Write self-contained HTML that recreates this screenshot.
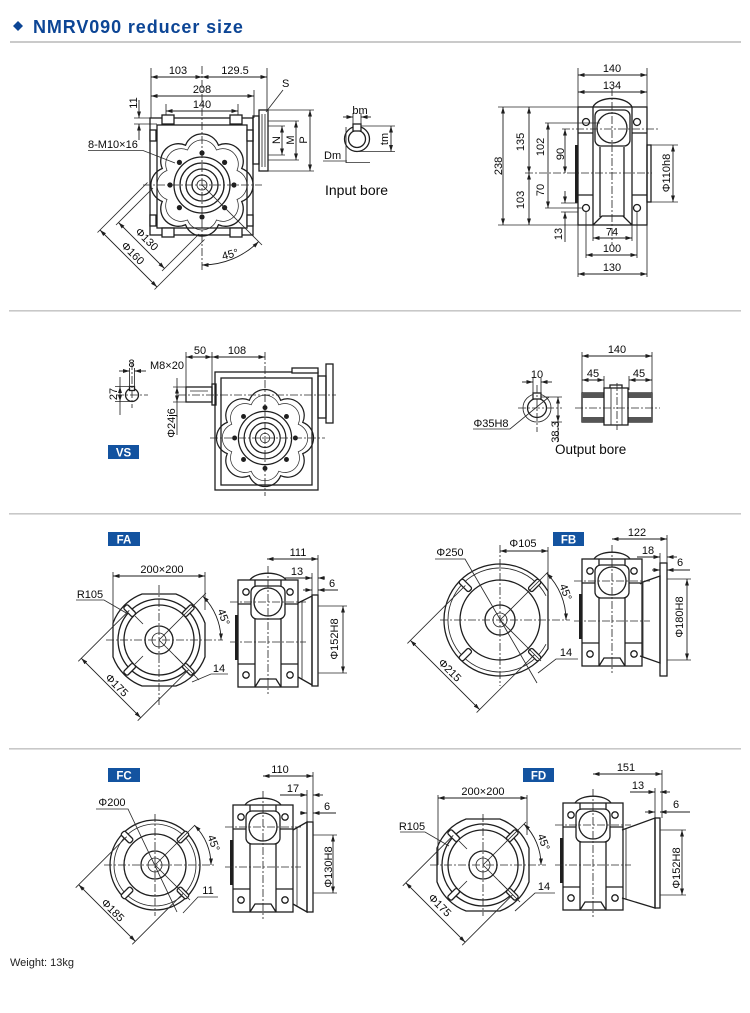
<!DOCTYPE html>
<html><head><meta charset="utf-8"><title>NMRV090 reducer size</title>
<style>
html,body{margin:0;padding:0;background:#fff;width:750px;height:1013px;overflow:hidden}
svg{display:block}
.l{stroke:#1e1e1e;stroke-width:1.3;fill:none}
.w{stroke:#1e1e1e;stroke-width:1.3;fill:#fff}
.e{stroke:#2a2a2a;stroke-width:0.85;fill:none}
.c{stroke:#2a2a2a;stroke-width:0.85;fill:none;stroke-dasharray:8 2 2 2}
.dm{stroke:#1e1e1e;stroke-width:0.9;fill:none;marker-start:url(#a);marker-end:url(#a)}
.de{stroke:#1e1e1e;stroke-width:0.9;fill:none;marker-end:url(#a)}
.t{font-family:"Liberation Sans",Arial,sans-serif;font-size:11px;fill:#0a0a0a}
.k{fill:#1e1e1e}
.lab{fill:#1353a0}
.lt{font-family:"Liberation Sans",Arial,sans-serif;font-size:11.5px;font-weight:bold;fill:#fff}
</style></head><body>
<svg width="750" height="1013" viewBox="0 0 750 1013" xmlns="http://www.w3.org/2000/svg">
<defs>
<marker id="a" viewBox="0 0 10 6" refX="10" refY="3" markerWidth="6.5" markerHeight="4" markerUnits="userSpaceOnUse" orient="auto-start-reverse"><path d="M0,0L10,3L0,6Z" fill="#1e1e1e"/></marker>
<path id="lobe" d="M39.73,-16.46A17.6,17.6 0 0 1 39.73,16.46A17.6,17.6 0 0 1 16.46,39.73A17.6,17.6 0 0 1 -16.46,39.73A17.6,17.6 0 0 1 -39.73,16.46A17.6,17.6 0 0 1 -39.73,-16.46A17.6,17.6 0 0 1 -16.46,-39.73A17.6,17.6 0 0 1 16.46,-39.73A17.6,17.6 0 0 1 39.73,-16.46Z"/>
<g id="gear">
<use href="#lobe" class="l"/>
<use href="#lobe" class="e" transform="scale(0.88)"/>
<circle class="l" r="28"/>
<circle class="l" r="22"/>
<circle class="l" r="16"/>
<circle class="l" r="10"/>
<circle class="e" r="5"/>
<g class="k">
<circle cx="32" cy="0" r="2.6"/><circle cx="22.6" cy="22.6" r="2.6"/><circle cx="0" cy="32" r="2.6"/><circle cx="-22.6" cy="22.6" r="2.6"/>
<circle cx="-32" cy="0" r="2.6"/><circle cx="-22.6" cy="-22.6" r="2.6"/><circle cx="0" cy="-32" r="2.6"/><circle cx="22.6" cy="-22.6" r="2.6"/>
</g>
</g>
<g id="ffa">
<path class="l" d="M46,-16.9L46,16.9A49,49 0 0 1 16.9,46L-16.9,46A49,49 0 0 1 -46,16.9L-46,-16.9A49,49 0 0 1 -16.9,-46L16.9,-46A49,49 0 0 1 46,-16.9Z"/>
<circle class="l" r="41"/>
<circle class="l" r="35"/>
<circle class="l" r="14"/>
<circle class="e" r="7"/>
<rect class="w" x="35" y="-2.8" width="13" height="5.6" rx="2" transform="rotate(45)"/>
<rect class="w" x="35" y="-2.8" width="13" height="5.6" rx="2" transform="rotate(135)"/>
<rect class="w" x="35" y="-2.8" width="13" height="5.6" rx="2" transform="rotate(225)"/>
<rect class="w" x="35" y="-2.8" width="13" height="5.6" rx="2" transform="rotate(315)"/>
<path class="e" d="M-16,-16L-24,-24M-16,16L-24,24M16,16L24,24"/>
</g>
<g id="side">
<rect class="l" x="0" y="0" width="60" height="107"/>
<path class="l" d="M12,0A19,10 0 0 1 48,0"/>
<path class="l" d="M17,0V107M43,0V107M0,24H17M43,24H60M0,84H17M43,84H60M17,107L22,99H38L43,107"/>
<rect class="w" x="13" y="6" width="34" height="33" rx="6"/>
<circle class="l" cx="30" cy="22" r="14"/>
<circle class="l" cx="8" cy="12" r="3.2"/>
<circle class="l" cx="52" cy="12" r="3.2"/>
<circle class="l" cx="8" cy="95" r="3.2"/>
<circle class="l" cx="52" cy="95" r="3.2"/>
<rect class="k" x="-3" y="35" width="2.5" height="45"/>
<path class="c" d="M-8,22H68M-8,62H68M30,-14V114"/>
</g>
</defs>

<!-- HEADER -->
<polygon points="18,21 23,26 18,31 13,26" fill="#0c4595"/>
<text x="33" y="33" style="font-family:'Liberation Sans',Arial,sans-serif;font-size:18px;font-weight:bold;letter-spacing:0.9px;fill:#0c4595">NMRV090 reducer size</text>
<rect x="10" y="41" width="731" height="2" fill="#cacaca"/>
<rect x="9" y="310" width="732" height="1.6" fill="#c8c8c8"/>
<rect x="9" y="513" width="732" height="1.6" fill="#c8c8c8"/>
<rect x="9" y="748" width="732" height="1.6" fill="#c8c8c8"/>

<!-- ===== SECTION 1 MAIN VIEW ===== -->
<path class="e" d="M151,68V118M267,68V110M254,90V118M166,104V118M238,104V118"/>
<line class="dm" x1="151" y1="77" x2="202" y2="77"/>
<line class="dm" x1="202" y1="77" x2="267" y2="77"/>
<text class="t" x="178" y="74" text-anchor="middle">103</text>
<text class="t" x="235" y="74" text-anchor="middle">129.5</text>
<line class="dm" x1="151" y1="96" x2="254" y2="96"/>
<text class="t" x="202" y="93" text-anchor="middle">208</text>
<line class="dm" x1="166" y1="111" x2="238" y2="111"/>
<text class="t" x="202" y="108" text-anchor="middle">140</text>
<path class="e" d="M134,118H150M134,124H157"/>
<path class="de" d="M139,100V118"/><path class="de" d="M139,140V124"/>
<text class="t" text-anchor="middle" transform="translate(137,103) rotate(-90)">11</text>

<rect class="l" x="150" y="118" width="103" height="117"/>
<rect class="l" x="157" y="125" width="90" height="103"/>
<rect class="w" x="162" y="115" width="12" height="9"/>
<rect class="w" x="230" y="115" width="12" height="9"/>
<rect class="w" x="162" y="228" width="12" height="9"/>
<rect class="w" x="230" y="228" width="12" height="9"/>
<rect class="w" x="150" y="130" width="6" height="11"/>
<rect class="w" x="150" y="215" width="6" height="11"/>
<rect class="w" x="247" y="130" width="6" height="11"/>
<rect class="w" x="247" y="215" width="6" height="11"/>
<use href="#gear" transform="translate(202,185)"/>
<rect class="l" x="253" y="116" width="6" height="48"/>
<rect class="l" x="259" y="110" width="9" height="61"/>
<path class="e" d="M262,114V167M265,114V167"/>
<path class="c" d="M143,185H262M202,66V270"/>

<!-- phi dims -->
<path class="e" d="M97.5,232.5L147.5,182.5M154.5,289.5L204.5,239.5M116,225L153,188M162,271L199,234"/>
<line class="dm" x1="100" y1="230" x2="157" y2="287"/>
<line class="dm" x1="118.5" y1="222.5" x2="164.5" y2="268.5"/>
<text class="t" text-anchor="middle" y="4" transform="translate(147,239) rotate(45)">Φ130</text>
<text class="t" text-anchor="middle" y="4" transform="translate(133,253) rotate(45)">Φ160</text>
<path class="e" d="M202,185L262,245"/>
<path class="dm" d="M202,265A80,80 0 0 0 258.6,241.6"/>
<text class="t" text-anchor="middle" y="4" transform="translate(230,254) rotate(-15)">45°</text>

<text class="t" x="88" y="148">8-M10×16</text>
<path class="e" d="M88,150.5H143L175,163"/>
<text class="t" x="282" y="87">S</text>
<path class="e" d="M283,90L266,112"/>
<path class="e" d="M268,110H314M268,171H314M268,121H299M268,160H299M268,126H285M268,155H285"/>
<line class="dm" x1="282" y1="126" x2="282" y2="155"/>
<line class="dm" x1="296" y1="121" x2="296" y2="160"/>
<line class="dm" x1="310" y1="110" x2="310" y2="171"/>
<text class="t" text-anchor="middle" transform="translate(280,140) rotate(-90)">N</text>
<text class="t" text-anchor="middle" transform="translate(294,140) rotate(-90)">M</text>
<text class="t" text-anchor="middle" transform="translate(307,140) rotate(-90)">P</text>

<!-- input bore -->
<circle class="l" cx="357" cy="139" r="12.5"/>
<circle class="l" cx="357" cy="139" r="8.5"/>
<rect class="w" x="353" y="124" width="8" height="7"/>
<path class="e" d="M353,113V126M361,113V126"/>
<path class="de" d="M343,117H353"/><path class="de" d="M371,117H361"/>
<text class="t" x="360" y="114" text-anchor="middle">bm</text>
<path class="e" d="M361,126H395M357,151.5H395"/>
<line class="dm" x1="391" y1="126" x2="391" y2="151.5"/>
<text class="t" text-anchor="middle" transform="translate(388,139) rotate(-90)">tm</text>
<path class="e" d="M323,161H347M346,127V163M346,162.5H370"/>
<text class="t" x="324" y="159">Dm</text>
<text x="325" y="195" style="font-family:'Liberation Sans',Arial,sans-serif;font-size:14px;fill:#0a0a0a">Input bore</text>

<!-- ===== SECTION 1 RIGHT VIEW ===== -->
<path class="e" d="M578,68V107M647,68V107"/>
<line class="dm" x1="578" y1="75" x2="647" y2="75"/>
<text class="t" x="612" y="72" text-anchor="middle">140</text>
<line class="dm" x1="578" y1="92" x2="647" y2="92"/>
<text class="t" x="612" y="89" text-anchor="middle">134</text>
<rect class="l" x="578" y="107" width="69" height="118"/>
<path class="l" d="M593,107A20,11 0 0 1 632,107"/>
<path class="l" d="M593,107V225M632,107V225M600,147V217M624,147V217M578,133H593M632,133H647M578,195H593M632,195H647M593,225L602,216H623L632,225"/>
<rect class="w" x="595" y="110" width="35" height="36" rx="6"/>
<circle class="l" cx="612" cy="128" r="15"/>
<circle class="l" cx="586" cy="122" r="3.5"/>
<circle class="l" cx="637" cy="122" r="3.5"/>
<circle class="l" cx="586" cy="208" r="3.5"/>
<circle class="l" cx="637" cy="208" r="3.5"/>
<rect class="k" x="575" y="145" width="3" height="58"/>
<rect class="l" x="647" y="145" width="4" height="57"/>
<path class="c" d="M612,88V245M562,129H660M525,173H652"/>
<path class="e" d="M498,107H578M498,225H578M545,123H600M545,208H582"/>
<line class="dm" x1="503" y1="107" x2="503" y2="225"/>
<text class="t" text-anchor="middle" transform="translate(502,166) rotate(-90)">238</text>
<line class="dm" x1="529" y1="107" x2="529" y2="173"/>
<text class="t" text-anchor="middle" transform="translate(524,142) rotate(-90)">135</text>
<line class="dm" x1="529" y1="173" x2="529" y2="225"/>
<text class="t" text-anchor="middle" transform="translate(524,200) rotate(-90)">103</text>
<line class="dm" x1="548" y1="123" x2="548" y2="208"/>
<text class="t" text-anchor="middle" transform="translate(544,147) rotate(-90)">102</text>
<text class="t" text-anchor="middle" transform="translate(544,190) rotate(-90)">70</text>
<line class="dm" x1="565" y1="129" x2="565" y2="173"/>
<text class="t" text-anchor="middle" transform="translate(564,154) rotate(-90)">90</text>
<path class="e" d="M561,203H578M561,212H578"/>
<path class="de" d="M565,191V203"/><path class="de" d="M565,242V212"/>
<text class="t" text-anchor="middle" transform="translate(562,234) rotate(-90)">13</text>
<path class="e" d="M593,225V241M632,225V241M586,211V258M637,211V258M578,225V277M647,225V277"/>
<line class="dm" x1="593" y1="238" x2="632" y2="238"/>
<text class="t" x="612" y="235.5" text-anchor="middle">74</text>
<line class="dm" x1="586" y1="255" x2="637" y2="255"/>
<text class="t" x="612" y="252" text-anchor="middle">100</text>
<line class="dm" x1="578" y1="274" x2="647" y2="274"/>
<text class="t" x="612" y="271" text-anchor="middle">130</text>
<path class="e" d="M651,145H678M651,202H678"/>
<line class="dm" x1="673" y1="145" x2="673" y2="202"/>
<text class="t" text-anchor="middle" transform="translate(670,173) rotate(-90)">Φ110h8</text>

<!-- ===== SECTION 2 VS ===== -->
<circle class="l" cx="132" cy="395" r="6.5"/>
<rect class="w" x="129.5" y="386.5" width="5" height="4"/>
<path class="c" d="M116,395H148M132,362V408"/>
<path class="e" d="M129.5,368V387M134.5,368V387M115,386.5H130M115,401.5H132M120,377V386.5M120,401.5V415"/>
<path class="de" d="M119,371H129.5"/><path class="de" d="M146,371H134.5"/>
<text class="t" x="131.5" y="367" text-anchor="middle">8</text>
<line class="dm" x1="120" y1="386.5" x2="120" y2="401.5"/>
<text class="t" text-anchor="middle" transform="translate(117,394) rotate(-90)">27</text>
<text class="t" x="167" y="369" text-anchor="middle">M8×20</text>
<path class="e" d="M186,352V388M212,352V386"/>
<line class="dm" x1="186" y1="357" x2="212" y2="357"/>
<line class="dm" x1="212" y1="357" x2="265" y2="357"/>
<text class="t" x="200" y="354" text-anchor="middle">50</text>
<text class="t" x="237" y="354" text-anchor="middle">108</text>
<rect class="l" x="186" y="387" width="26" height="15"/>
<path class="e" d="M190,391H208"/>
<rect class="l" x="212" y="384" width="4" height="21"/>
<path class="e" d="M173,387H186M173,402H186M177,378V387M177,402V435"/>
<line class="dm" x1="177" y1="387" x2="177" y2="402"/>
<text class="t" text-anchor="middle" transform="translate(175,423) rotate(-90)">Φ24j6</text>
<rect class="l" x="215" y="372" width="103" height="118"/>
<rect class="l" x="221" y="378" width="91" height="107"/>
<rect class="w" x="292" y="368" width="26" height="5"/>
<use href="#gear" transform="translate(265,438) scale(0.95)"/>
<rect class="l" x="318" y="376" width="8" height="42"/>
<rect class="l" x="326" y="364" width="7" height="59"/>
<path class="c" d="M210,438H325M265,352V496M178,395H336"/>
<rect class="lab" x="108" y="445" width="31" height="14"/>
<text class="lt" x="123.5" y="456.5" text-anchor="middle">VS</text>

<!-- output bore -->
<circle class="e" cx="537" cy="408" r="14"/>
<circle class="l" cx="537" cy="408" r="9.5"/>
<rect class="w" x="533" y="393" width="8" height="6"/>
<path class="c" d="M518,408H562M537,385V432"/>
<path class="e" d="M533,378V398M541,378V398"/>
<path class="de" d="M522,382H533"/><path class="de" d="M552,382H541"/>
<text class="t" x="537" y="378" text-anchor="middle">10</text>
<path class="e" d="M473,429H510L549,397"/>
<text class="t" x="491" y="427" text-anchor="middle">Φ35H8</text>
<path class="e" d="M541,397H562M551,422H562"/>
<line class="dm" x1="558" y1="397" x2="558" y2="422"/>
<path class="e" d="M558,422V442"/>
<text class="t" text-anchor="middle" transform="translate(559,432) rotate(-90)">38.3</text>
<text x="555" y="454" style="font-family:'Liberation Sans',Arial,sans-serif;font-size:13.5px;fill:#0a0a0a">Output bore</text>
<path class="e" d="M582,352V394M652,352V394M604,376V390M629,376V390"/>
<line class="dm" x1="582" y1="356" x2="652" y2="356"/>
<text class="t" x="617" y="353" text-anchor="middle">140</text>
<line class="dm" x1="582" y1="380" x2="604" y2="380"/>
<line class="dm" x1="629" y1="380" x2="652" y2="380"/>
<text class="t" x="593" y="377" text-anchor="middle">45</text>
<text class="t" x="639" y="377" text-anchor="middle">45</text>
<rect class="l" x="582" y="393" width="70" height="29"/>
<rect x="582" y="393" width="70" height="5" fill="#555"/>
<rect x="582" y="417" width="70" height="5" fill="#555"/>
<rect class="w" x="604" y="388" width="24" height="37"/>
<path class="l" d="M610,388V385H622V388"/>
<path class="e" d="M611,388V425M622,388V425"/>
<path class="c" d="M575,408H660M617,383V430"/>

<!-- ===== SECTION 3 FA ===== -->
<rect class="lab" x="108" y="532" width="32" height="14"/>
<text class="lt" x="124" y="543.5" text-anchor="middle">FA</text>
<use href="#ffa" transform="translate(159,640)"/>
<path class="c" d="M106,640H223M159,585V706"/>
<path class="e" d="M113,572V640M205,572V610"/>
<line class="dm" x1="113" y1="576" x2="205" y2="576"/>
<text class="t" x="162" y="573" text-anchor="middle">200×200</text>
<path class="e" d="M159,640L206,593M159,640L199,680"/>
<path class="dm" d="M202.8,596.2A62,62 0 0 1 221,640"/>
<text class="t" text-anchor="middle" y="4" transform="translate(224,617) rotate(70)">45°</text>
<path class="e" d="M192,682L211,674H228"/>
<text class="t" x="219" y="672" text-anchor="middle">14</text>
<path class="e" d="M76,600H104L128,614"/>
<text class="t" x="90" y="598" text-anchor="middle">R105</text>
<path class="e" d="M129.3,610.3L78.3,661.3M188.7,669.7L137.7,720.7"/>
<line class="dm" x1="81.3" y1="658.3" x2="140.7" y2="717.7"/>
<text class="t" text-anchor="middle" y="4" transform="translate(117,685) rotate(45)">Φ175</text>
<use href="#side" transform="translate(238,580)"/>
<path class="l" d="M298,603L312,596V685L298,677"/>
<path class="e" d="M302,601V680"/>
<rect class="l" x="312" y="595" width="6" height="91"/>
<path class="e" d="M318,555V595M312,573V595"/>
<line class="dm" x1="267" y1="559" x2="318" y2="559"/>
<text class="t" x="298" y="556" text-anchor="middle">111</text>
<path class="de" d="M285,578H312"/><path class="de" d="M325,578H318"/>
<text class="t" x="297" y="575" text-anchor="middle">13</text>
<path class="de" d="M303,590H312"/><path class="de" d="M338,590H318"/>
<text class="t" x="332" y="587" text-anchor="middle">6</text>
<path class="e" d="M318,606H347M318,673H347"/>
<line class="dm" x1="343" y1="606" x2="343" y2="673"/>
<text class="t" text-anchor="middle" transform="translate(338,639) rotate(-90)">Φ152H8</text>

<!-- ===== FB ===== -->
<rect class="lab" x="553" y="532" width="31" height="14"/>
<text class="lt" x="568.5" y="543.5" text-anchor="middle">FB</text>
<path class="l" d="M548,591.2A56,56 0 1 0 548,648.8Z"/>
<path class="e" d="M546,595.8A52,52 0 1 0 546,644.2"/>
<circle class="l" cx="500" cy="620" r="40"/>
<circle class="l" cx="500" cy="620" r="15"/>
<circle class="e" cx="500" cy="620" r="7"/>
<g transform="translate(500,620)">
<rect class="w" x="42" y="-2.8" width="14" height="5.6" rx="2" transform="rotate(45)"/>
<rect class="w" x="42" y="-2.8" width="14" height="5.6" rx="2" transform="rotate(135)"/>
<rect class="w" x="42" y="-2.8" width="14" height="5.6" rx="2" transform="rotate(225)"/>
<rect class="w" x="42" y="-2.8" width="14" height="5.6" rx="2" transform="rotate(315)"/>
</g>
<path class="c" d="M440,620H570M500,545V686"/>
<path class="e" d="M435,559H465L537,683"/>
<text class="t" x="450" y="556" text-anchor="middle">Φ250</text>
<path class="e" d="M548,547V595"/>
<line class="dm" x1="500" y1="551" x2="548" y2="551"/>
<text class="t" x="523" y="547" text-anchor="middle">Φ105</text>
<path class="e" d="M500,620L548,572M500,620L541,661"/>
<path class="dm" d="M546.7,573.3A66,66 0 0 1 566,620"/>
<text class="t" text-anchor="middle" y="4" transform="translate(566,592) rotate(70)">45°</text>
<path class="e" d="M538,673L556,659H578"/>
<text class="t" x="566" y="656" text-anchor="middle">14</text>
<path class="e" d="M465.4,585.4L407.4,643.4M534.6,654.6L476.6,712.6"/>
<line class="dm" x1="410.4" y1="640.4" x2="479.6" y2="709.6"/>
<text class="t" text-anchor="middle" y="4" transform="translate(450,670) rotate(45)">Φ215</text>
<use href="#side" transform="translate(582,559)"/>
<path class="l" d="M640,584L643,582L660,576V663L643,657L640,656"/>
<path class="e" d="M643,582V657"/>
<rect class="l" x="660" y="563" width="7" height="113"/>
<path class="e" d="M667,535V563M660,553V563"/>
<line class="dm" x1="612" y1="539" x2="667" y2="539"/>
<text class="t" x="637" y="536" text-anchor="middle">122</text>
<path class="de" d="M637,557H660"/><path class="de" d="M677,557H667"/>
<text class="t" x="648" y="554" text-anchor="middle">18</text>
<path class="de" d="M652,570H660"/><path class="de" d="M690,570H667"/>
<text class="t" x="680" y="566" text-anchor="middle">6</text>
<path class="e" d="M667,579H691M667,660H691"/>
<line class="dm" x1="687" y1="579" x2="687" y2="660"/>
<text class="t" text-anchor="middle" transform="translate(683,617) rotate(-90)">Φ180H8</text>

<!-- ===== FC ===== -->
<rect class="lab" x="108" y="768" width="32" height="14"/>
<text class="lt" x="124" y="779.5" text-anchor="middle">FC</text>
<circle class="l" cx="155" cy="865" r="45"/>
<circle class="e" cx="155" cy="865" r="41"/>
<circle class="l" cx="155" cy="865" r="31"/>
<circle class="l" cx="155" cy="865" r="14"/>
<circle class="e" cx="155" cy="865" r="7"/>
<g transform="translate(155,865)">
<rect class="w" x="33" y="-2.8" width="13" height="5.6" rx="2" transform="rotate(45)"/>
<rect class="w" x="33" y="-2.8" width="13" height="5.6" rx="2" transform="rotate(135)"/>
<rect class="w" x="33" y="-2.8" width="13" height="5.6" rx="2" transform="rotate(225)"/>
<rect class="w" x="33" y="-2.8" width="13" height="5.6" rx="2" transform="rotate(315)"/>
</g>
<path class="c" d="M104,865H214M155,814V916"/>
<path class="e" d="M96,809H128L177,912"/>
<text class="t" x="112" y="806" text-anchor="middle">Φ200</text>
<path class="e" d="M155,865L195,825M155,865L190,900"/>
<path class="dm" d="M194.6,825.4A56,56 0 0 1 211,865"/>
<text class="t" text-anchor="middle" y="4" transform="translate(214,843) rotate(70)">45°</text>
<path class="e" d="M183,913L198,897H218"/>
<text class="t" x="208" y="894" text-anchor="middle">11</text>
<path class="e" d="M126.7,836.7L75.7,887.7M183.3,893.3L132.3,944.3"/>
<line class="dm" x1="78.7" y1="884.7" x2="135.3" y2="941.3"/>
<text class="t" text-anchor="middle" y="4" transform="translate(113,910) rotate(45)">Φ185</text>
<use href="#side" transform="translate(233,805)"/>
<path class="l" d="M293,830L307,822V912L293,904"/>
<path class="e" d="M297,828V906"/>
<rect class="l" x="307" y="822" width="6" height="90"/>
<path class="e" d="M313,772V822M307,790V822"/>
<line class="dm" x1="263" y1="776" x2="313" y2="776"/>
<text class="t" x="280" y="773" text-anchor="middle">110</text>
<path class="de" d="M280,795H307"/><path class="de" d="M323,795H313"/>
<text class="t" x="293" y="792" text-anchor="middle">17</text>
<path class="de" d="M300,813H307"/><path class="de" d="M336,813H313"/>
<text class="t" x="327" y="810" text-anchor="middle">6</text>
<path class="e" d="M313,835H337M313,893H337"/>
<line class="dm" x1="333" y1="835" x2="333" y2="893"/>
<text class="t" text-anchor="middle" transform="translate(332,867) rotate(-90)">Φ130H8</text>

<!-- ===== FD ===== -->
<rect class="lab" x="523" y="768" width="31" height="14"/>
<text class="lt" x="538.5" y="779.5" text-anchor="middle">FD</text>
<use href="#ffa" transform="translate(483,865)"/>
<path class="c" d="M430,865H546M483,814V916"/>
<path class="e" d="M438,795V865M527,795V835"/>
<line class="dm" x1="438" y1="798" x2="527" y2="798"/>
<text class="t" x="483" y="795" text-anchor="middle">200×200</text>
<path class="e" d="M400,832H425L449,846"/>
<text class="t" x="412" y="830" text-anchor="middle">R105</text>
<path class="e" d="M483,865L526,822M483,865L520,902"/>
<path class="dm" d="M524,824A58,58 0 0 1 541,865"/>
<text class="t" text-anchor="middle" y="4" transform="translate(544,842) rotate(70)">45°</text>
<path class="e" d="M515,911L535,893H555"/>
<text class="t" x="544" y="890" text-anchor="middle">14</text>
<path class="e" d="M453.3,835.3L402.8,885.8M512.7,894.7L462.2,945.2"/>
<line class="dm" x1="405.8" y1="882.8" x2="465.2" y2="942.2"/>
<text class="t" text-anchor="middle" y="4" transform="translate(440,905) rotate(45)">Φ175</text>
<use href="#side" transform="translate(563,803)"/>
<path class="l" d="M622,830L655,818V908L622,898"/>
<path class="e" d="M626,829V899"/>
<rect class="l" x="655" y="818" width="5" height="90"/>
<path class="e" d="M662,770V818M655,788V818"/>
<line class="dm" x1="593" y1="774" x2="662" y2="774"/>
<text class="t" x="626" y="771" text-anchor="middle">151</text>
<path class="de" d="M630,792H655"/><path class="de" d="M670,792H660"/>
<text class="t" x="638" y="789" text-anchor="middle">13</text>
<path class="de" d="M645,812H655"/><path class="de" d="M690,812H660"/>
<text class="t" x="676" y="808" text-anchor="middle">6</text>
<path class="e" d="M660,830H686M660,895H686"/>
<line class="dm" x1="682" y1="830" x2="682" y2="895"/>
<text class="t" text-anchor="middle" transform="translate(680,868) rotate(-90)">Φ152H8</text>

<!-- weight -->
<text x="10" y="966" style="font-family:'Liberation Sans',Arial,sans-serif;font-size:11px;fill:#222">Weight: 13kg</text>
</svg>
</body></html>
